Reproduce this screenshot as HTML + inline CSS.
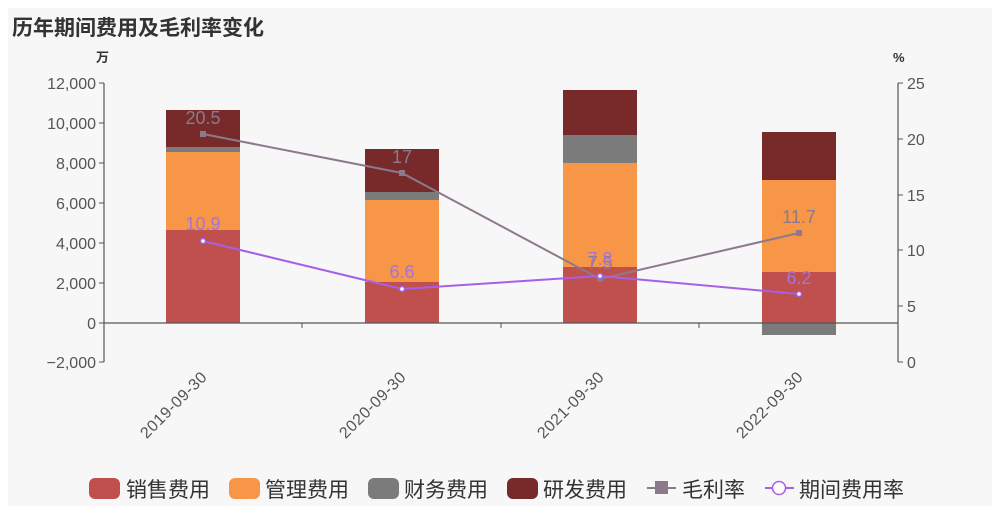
<!DOCTYPE html>
<html><head><meta charset="utf-8"><style>
body{margin:0;background:#fff;}
svg{display:block;font-family:"Liberation Sans","Noto Sans CJK SC",sans-serif;}
</style></head><body>
<svg width="1000" height="517" viewBox="0 0 1000 517">
<rect x="8" y="8" width="984" height="498" fill="#f7f7f7"/>
<text x="12" y="35" font-size="21" font-weight="bold" fill="#333">历年期间费用及毛利率变化</text>
<text x="96" y="62" font-size="13" font-weight="bold" fill="#333">万</text>
<text x="893" y="62" font-size="13" font-weight="bold" fill="#333">%</text>
<g stroke="#555" stroke-width="1.2" fill="none">
<line x1="104" y1="83" x2="104" y2="362"/>
<line x1="898" y1="83" x2="898" y2="362"/>
</g>
<g stroke="#555" stroke-width="1">
<line x1="99" y1="83" x2="104" y2="83"/><line x1="99" y1="123" x2="104" y2="123"/><line x1="99" y1="163" x2="104" y2="163"/><line x1="99" y1="203" x2="104" y2="203"/><line x1="99" y1="243" x2="104" y2="243"/><line x1="99" y1="283" x2="104" y2="283"/><line x1="99" y1="323" x2="104" y2="323"/><line x1="99" y1="362" x2="104" y2="362"/>
<line x1="898" y1="83" x2="903" y2="83"/><line x1="898" y1="139" x2="903" y2="139"/><line x1="898" y1="195" x2="903" y2="195"/><line x1="898" y1="250" x2="903" y2="250"/><line x1="898" y1="306" x2="903" y2="306"/><line x1="898" y1="362" x2="903" y2="362"/>
<line x1="302" y1="323" x2="302" y2="328"/><line x1="501" y1="323" x2="501" y2="328"/><line x1="699" y1="323" x2="699" y2="328"/>
</g>
<g font-size="16" fill="#555" text-anchor="end">
<text x="96" y="89">12,000</text><text x="96" y="129">10,000</text><text x="96" y="169">8,000</text><text x="96" y="209">6,000</text><text x="96" y="249">4,000</text><text x="96" y="289">2,000</text><text x="96" y="329">0</text><text x="96" y="368">−2,000</text>
</g>
<g font-size="16" fill="#555">
<text x="907" y="89">25</text><text x="907" y="145">20</text><text x="907" y="201">15</text><text x="907" y="256">10</text><text x="907" y="312">5</text><text x="907" y="368">0</text>
</g>
<g>
<rect x="166" y="230" width="74" height="93" fill="#c0504d"/>
<rect x="166" y="152" width="74" height="78" fill="#f79646"/>
<rect x="166" y="147" width="74" height="5" fill="#7b7b7b"/>
<rect x="166" y="110" width="74" height="37" fill="#772a29"/>
<rect x="365" y="282" width="74" height="41" fill="#c0504d"/>
<rect x="365" y="200" width="74" height="82" fill="#f79646"/>
<rect x="365" y="192" width="74" height="8" fill="#7b7b7b"/>
<rect x="365" y="149" width="74" height="43" fill="#772a29"/>
<rect x="563" y="267" width="74" height="56" fill="#c0504d"/>
<rect x="563" y="163" width="74" height="104" fill="#f79646"/>
<rect x="563" y="135" width="74" height="28" fill="#7b7b7b"/>
<rect x="563" y="90" width="74" height="45" fill="#772a29"/>
<rect x="762" y="272" width="74" height="51" fill="#c0504d"/>
<rect x="762" y="180" width="74" height="92" fill="#f79646"/>
<rect x="762" y="132" width="74" height="48" fill="#772a29"/>
<rect x="762" y="323" width="74" height="12" fill="#7b7b7b"/>
</g>
<line x1="104" y1="323" x2="898" y2="323" stroke="#555" stroke-width="1.2"/>
<polyline points="203,134 402,173 600,279 799,233" fill="none" stroke="#8c7a8c" stroke-width="2"/>
<g fill="#8c7a8c"><rect x="200" y="131" width="6" height="6"/><rect x="399" y="170" width="6" height="6"/><rect x="597" y="276" width="6" height="6"/><rect x="796" y="230" width="6" height="6"/></g>
<polyline points="203,241 402,289 600,276 799,294" fill="none" stroke="#a65fe6" stroke-width="2"/>
<g fill="#fff" stroke="#a65fe6" stroke-width="1.5"><circle cx="203" cy="241" r="2.5"/><circle cx="402" cy="289" r="2.5"/><circle cx="600" cy="276" r="2.5"/><circle cx="799" cy="294" r="2.5"/></g>
<g font-size="18" fill="#8c7a8c" text-anchor="middle">
<text x="203" y="124">20.5</text><text x="402" y="163">17</text><text x="600" y="269">7.5</text><text x="799" y="223">11.7</text>
</g>
<g font-size="18" fill="#a673d9" text-anchor="middle">
<text x="203" y="230">10.9</text><text x="402" y="278">6.6</text><text x="600" y="265">7.8</text><text x="799" y="284">6.2</text>
</g>
<g font-size="16" fill="#555" text-anchor="end" letter-spacing="0.5">
<text transform="translate(208,378) rotate(-45)">2019-09-30</text>
<text transform="translate(407,378) rotate(-45)">2020-09-30</text>
<text transform="translate(605,378) rotate(-45)">2021-09-30</text>
<text transform="translate(804,378) rotate(-45)">2022-09-30</text>
</g>
<g font-size="21" fill="#333">
<rect x="89" y="478" width="31" height="21" rx="6" fill="#c0504d"/><text x="126" y="497">销售费用</text>
<rect x="229" y="478" width="31" height="21" rx="6" fill="#f79646"/><text x="265" y="497">管理费用</text>
<rect x="368" y="478" width="31" height="21" rx="6" fill="#7b7b7b"/><text x="404" y="497">财务费用</text>
<rect x="507" y="478" width="31" height="21" rx="6" fill="#772a29"/><text x="543" y="497">研发费用</text>
<line x1="647" y1="488" x2="676" y2="488" stroke="#8c7a8c" stroke-width="2"/><rect x="655" y="481" width="13" height="13" fill="#8c7a8c"/><text x="682" y="497">毛利率</text>
<line x1="765" y1="488" x2="794" y2="488" stroke="#a65fe6" stroke-width="2"/><circle cx="779" cy="488" r="6.5" fill="#fff" stroke="#a65fe6" stroke-width="1.5"/><text x="799" y="497">期间费用率</text>
</g>
</svg>
</body></html>
